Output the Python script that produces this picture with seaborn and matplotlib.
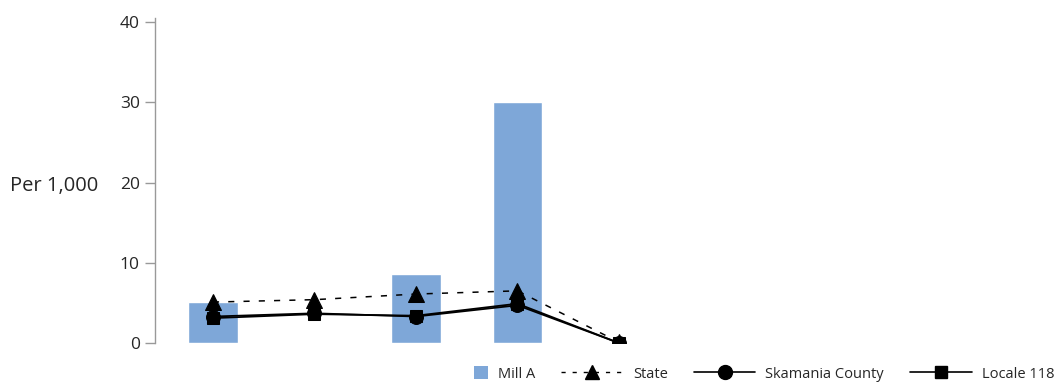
import matplotlib
matplotlib.use("Agg")
import matplotlib.pyplot as plt
import seaborn as sns
import pandas as pd
from matplotlib.lines import Line2D
from matplotlib.patches import Patch, Rectangle
from matplotlib.legend_handler import HandlerPatch

categories = ["C1", "C2", "C3", "C4", "C5"]
mill_a = [5.1, 0.0, 8.6, 30.0, 0.0]
state = [5.1, 5.4, 6.1, 6.5, 0.1]
county = [3.3, 3.7, 3.3, 4.7, 0.0]
locale = [3.1, 3.6, 3.4, 4.9, 0.0]
yticks = [0, 10, 20, 30, 40]

sns.set_style("white")
plt.rcParams['font.family'] = ['Open Sans', 'DejaVu Sans']

fig = plt.figure(figsize=(10.63, 3.86), dpi=100)
ax = fig.add_axes([155/1063, 1-343/386, 905/1063, (343-18)/386])

df = pd.DataFrame({"cat": categories, "mill": mill_a, "state": state,
                   "county": county, "locale": locale})
bar_color = "#7ea7d8"
sns.barplot(data=df, x="cat", y="mill", color=bar_color, width=0.49,
            saturation=1, ax=ax, zorder=1)
sns.lineplot(data=df, x="cat", y="state", ax=ax, color="black", lw=1.1,
             linestyle=(0, (4, 6)), marker="^", markersize=11,
             markeredgecolor="black", zorder=3, sort=False)
sns.lineplot(data=df, x="cat", y="county", ax=ax, color="black", lw=1.3,
             marker="o", markersize=10, markeredgecolor="black", zorder=4, sort=False)
sns.lineplot(data=df, x="cat", y="locale", ax=ax, color="black", lw=1.3,
             marker="s", markersize=9, markeredgecolor="black", zorder=5, sort=False)

ax.set_xlim(-0.571, -0.571 + 905/101.5)
ax.set_ylim(0, 40.5)
ax.set_yticks(yticks)
ax.set_yticklabels([str(v) for v in yticks], fontsize=12.5)
ax.set_xticks([])
ax.set_xlabel("")
ax.set_ylabel("Per 1,000", rotation=0, fontsize=14.5, va="center", ha="center")
ax.yaxis.set_label_coords((54 - 155) / 905, (343 - 186) / 325)
for s in ["top", "right", "bottom"]:
    ax.spines[s].set_visible(False)
ax.spines["left"].set_color("#999999")
ax.spines["left"].set_linewidth(1)
ax.tick_params(axis="y", left=True, length=7, width=1, color="#999999", pad=4)


def square_patch(legend, orig_handle, xdescent, ydescent, width, height, fontsize):
    side = height * 1.3
    return Rectangle((width - side - xdescent, -ydescent + (height - side) / 2), side, side)


handles = [
    Patch(facecolor=bar_color, edgecolor="none"),
    Line2D([], [], color="black", lw=1.0, linestyle=(0, (3, 5)), marker="^", markersize=10),
    Line2D([], [], color="black", lw=1.2, marker="o", markersize=10),
    Line2D([], [], color="black", lw=1.2, marker="s", markersize=9),
]
labels = ["Mill A", "State", "Skamania County", "Locale 118"]
fig.legend(handles, labels, loc="center right", bbox_to_anchor=(1.0, 1-374/386),
           ncol=4, frameon=False, fontsize=10.5, handlelength=4.2, columnspacing=1.8,
           handletextpad=0.7, borderaxespad=0.2,
           handler_map={Patch: HandlerPatch(patch_func=square_patch)})

fig.savefig("out.png", dpi=100)
